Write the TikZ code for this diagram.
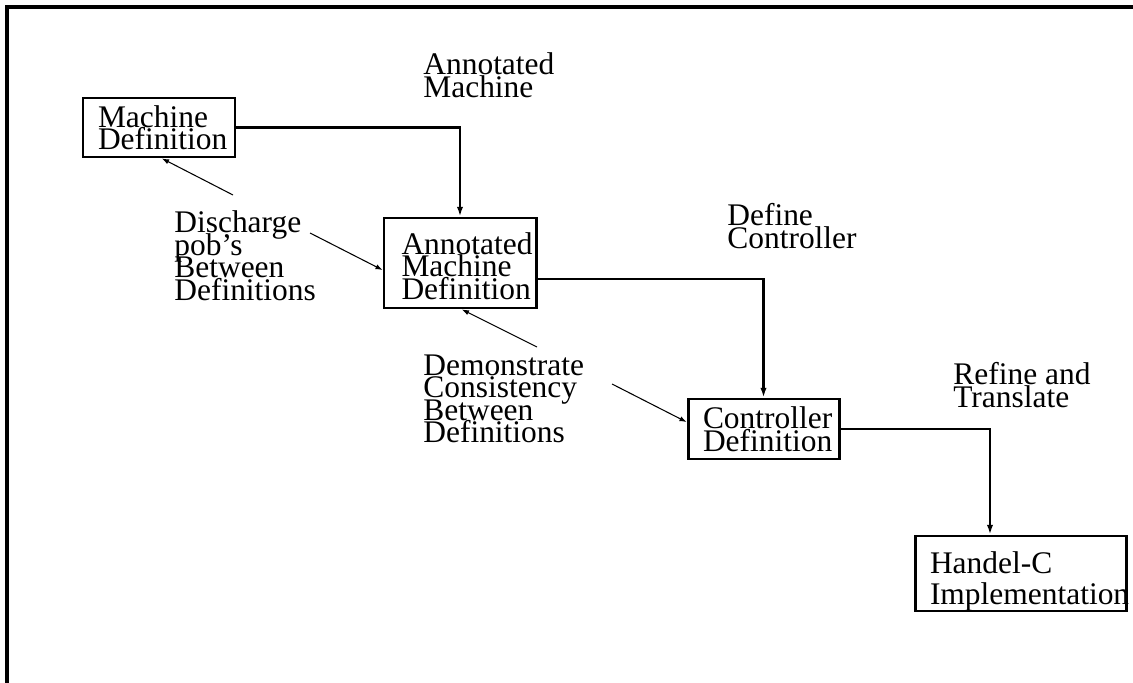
\documentclass[tikz,border=0pt]{standalone}
\usepackage{fontspec}
\setmainfont{Liberation Serif}
\usetikzlibrary{arrows.meta}

\newcommand{\diagfont}{\fontsize{17.9pt}{12.8pt}\selectfont\lineskiplimit=-100pt\relax\hyphenpenalty=10000\relax\exhyphenpenalty=10000\relax}
\newcommand{\loosefont}{\fontsize{17.9pt}{17.6pt}\selectfont\lineskiplimit=-100pt\relax\hyphenpenalty=10000\relax\exhyphenpenalty=10000\relax}

\begin{document}
\begin{tikzpicture}[
    stage/.style={draw, line width=1.7pt, rectangle, align=left, inner xsep=0.3cm, inner ysep=0pt, font=\diagfont},
    note/.style={anchor=north west, align=left, inner sep=0pt, font=\diagfont},
    flow/.style={-{Latex[length=5.5pt,width=3.6pt]}, line width=1.4pt},
    link/.style={-{Latex[length=4pt,width=3pt]}, line width=0.6pt}]
    \useasboundingbox (0,0) rectangle (22.66,-13.66);

    % frame
    \draw [line width=1.8pt] (0.14,-13.66) -- (0.14,-0.14) -- (22.66,-0.14);

    % stages
    \node (mach) at (3.18,-2.55) [stage, text width=2.44cm, minimum height=1.18cm] {Machine\\Definition};
    \node (ann) at (9.2,-5.26) [stage, inner xsep=0.35cm, text width=2.34cm, minimum height=1.8cm] {\rule{0pt}{15.6pt}Annotated\\Machine\\Definition};
    \node (ctrl) at (15.27,-8.58) [stage, text width=2.42cm, minimum height=1.2cm] {Controller\\Definition};
    \node (hc) at (20.41,-11.47) [stage, text width=3.62cm, minimum height=1.5cm, font=\loosefont] {\rule{0pt}{21.2pt}Handel-C\\Implementation};

    % steps
    \draw [flow] (mach.east) -| (ann.north);
    \draw [flow] ([yshift=-0.32cm]ann.east) -| (ctrl.north);
    \draw [flow] (ctrl.east) -| ([xshift=-0.61cm]hc.north);

    \node (anlab) at (8.46,-1.05) [note] {Annotated\\Machine};
    \node (deflab) at (14.54,-4.07) [note] {Define\\Controller};
    \node (reflab) at (19.06,-7.25) [note] {Refine and\\Translate};

    % proof obligations
    \node (dislab) at (3.48,-4.21) [note] {Discharge\\pob's\\Between\\Definitions};
    \node (demlab) at (8.46,-7.09) [note] {Demonstrate\\Consistency\\Between\\Definitions};

    \coordinate (dis-up) at (4.66,-3.90);
    \coordinate (dis-dn) at (6.20,-4.66);
    \coordinate (dem-up) at (10.74,-6.94);
    \coordinate (dem-dn) at (12.24,-7.68);

    \draw [link] (dis-up) -- ([xshift=0.06cm]mach.south);
    \draw [link] (dis-dn) -- ([yshift=-0.14cm]ann.west);
    \draw [link] (dem-up) -- ([xshift=0.04cm]ann.south);
    \draw [link] (dem-dn) -- ([yshift=0.14cm]ctrl.west);
\end{tikzpicture}
\end{document}
